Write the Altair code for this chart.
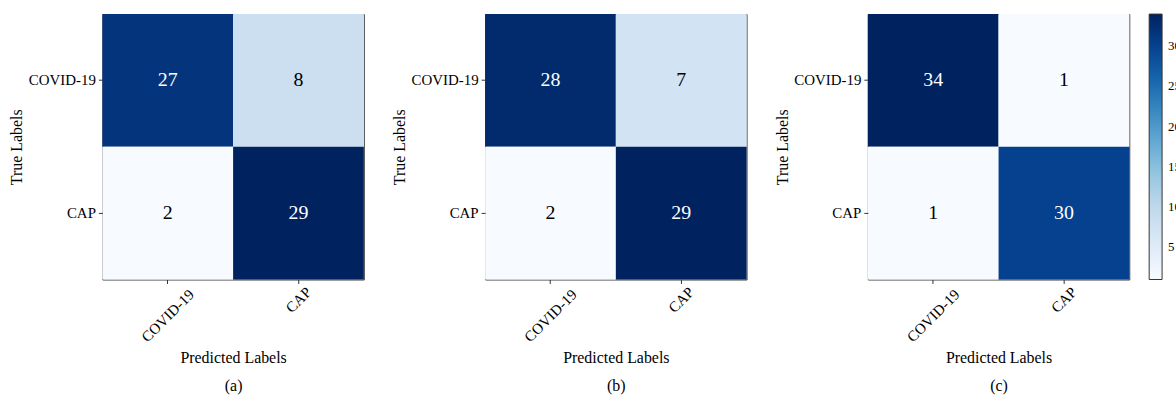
import altair as alt
import numpy as np
import pandas as pd

# Class labels shared by every confusion matrix
classes = ["COVID-19", "CAP"]

# Confusion matrices, rows = true label, columns = predicted label
matrix_a = [[27, 8], [2, 29]]
matrix_b = [[28, 7], [2, 29]]
matrix_c = [[34, 1], [1, 30]]

captions = ["(a)", "(b)", "(c)"]
colorbar_ticks = [5, 10, 15, 20, 25, 30]

# "Blues"-style colormap stops, light to dark
blues = ["#f7fbff", "#deebf7", "#c6dbef", "#9ecae1", "#6baed6",
         "#3d8bc2", "#1767ad", "#064290", "#00225f"]

FONT = "Liberation Serif"
W, H = 263, 267


def to_frame(matrix):
    rows = []
    for i, t in enumerate(classes):
        for j, p in enumerate(classes):
            rows.append({"true": t, "pred": p, "count": matrix[i][j]})
    return pd.DataFrame(rows)


def panel(matrix, caption, show_bar):
    df = to_frame(matrix)
    vmin, vmax = int(df["count"].min()), int(df["count"].max())
    thresh = vmax / 2
    stops = [float(v) for v in np.linspace(vmin, vmax, len(blues))]

    legend = None
    if show_bar:
        legend = alt.Legend(
            values=colorbar_ticks, title=None, orient="right", offset=20,
            gradientLength=H, gradientThickness=13, padding=0,
            gradientStrokeColor="#333333", gradientStrokeWidth=1,
            labelFont=FONT, labelFontSize=13, labelColor="black", labelOffset=6,
        )

    x = alt.X(
        "pred:N", sort=classes,
        axis=alt.Axis(
            title=["Predicted Labels", caption], titleFont=FONT, titleFontSize=16,
            titleFontWeight="normal", titleColor="black", titleLineHeight=29,
            titleBaseline="top", titleY=70,
            labelAngle=-45, labelAlign="center", labelBaseline="middle",
            labelPadding={"condition": {"test": "datum.value === 'CAP'", "value": 16},
                          "value": 32},
            labelFont=FONT, labelFontSize=15, labelColor="black",
            tickSize=4, tickColor="#333333", domain=False,
        ),
    )
    y = alt.Y(
        "true:N", sort=classes,
        axis=alt.Axis(
            title="True Labels", titleFont=FONT, titleFontSize=16,
            titleFontWeight="normal", titleColor="black",
            titleX=-86, titleY=H / 2, titleBaseline="middle", titleAngle=-90,
            titleAlign="center",
            labelFont=FONT, labelFontSize=15, labelColor="black", labelPadding=3,
            tickSize=4, tickColor="#333333", domain=False,
        ),
    )

    base = alt.Chart(df).encode(x=x, y=y)
    cells = base.mark_rect().encode(
        color=alt.Color(
            "count:Q",
            scale=alt.Scale(domain=stops, range=blues, interpolate="rgb"),
            legend=legend,
        )
    )
    labels = base.mark_text(font=FONT, fontSize=20).encode(
        text="count:Q",
        color=alt.condition(f"datum.count > {thresh}",
                            alt.value("white"), alt.value("black")),
    )
    return (cells + labels).properties(width=W, height=H)


chart = (
    alt.hconcat(
        panel(matrix_a, captions[0], False),
        panel(matrix_b, captions[1], False),
        panel(matrix_c, captions[2], True),
        spacing=26,
    )
    .resolve_scale(color="independent")
    .configure_view(stroke="#3a3a3a", strokeWidth=1)
    .configure_scale(bandPaddingInner=0, bandPaddingOuter=0)
    .properties(padding={"left": 8, "top": 12, "right": -6, "bottom": 0},
                background="white")
)

chart.save("out.html", embed_options={"renderer": "svg", "actions": False})
